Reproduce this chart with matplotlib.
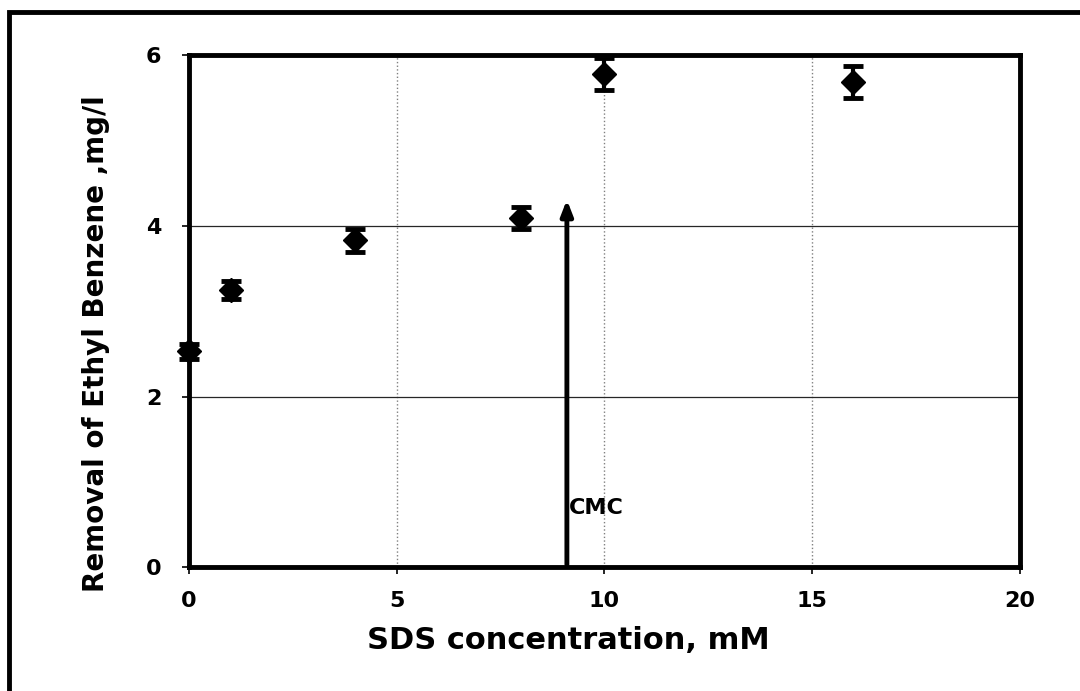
import numpy as np
import matplotlib.pyplot as plt
from matplotlib.patches import Rectangle

plt.rcParams['font.family'] = ['DejaVu Sans']

# data
sds_conc = [0, 1, 4, 8, 10, 16]
removal = [2.53, 3.25, 3.83, 4.09, 5.78, 5.69]
removal_err = [0.09, 0.11, 0.13, 0.13, 0.19, 0.19]
cmc_x = 9.1
cmc_top = 4.34

fig = plt.figure(figsize=(10.8, 6.91), dpi=100)
ax = fig.add_axes([0.175, 0.179, 0.769, 0.741])

# outer frame round the figure (cut off at right and bottom like the scan)
fig.patches.append(Rectangle((0.008, -0.1), 1.2, 1.083, transform=fig.transFigure,
                             fill=False, edgecolor='black', linewidth=3.5))

ax.errorbar(sds_conc, removal, yerr=removal_err, fmt='D', color='black',
            markersize=12, elinewidth=3, capsize=7, capthick=3.5, zorder=5, clip_on=False)

ax.annotate('', xy=(cmc_x, cmc_top), xytext=(cmc_x, 0),
            arrowprops=dict(arrowstyle='-|>,head_width=0.35,head_length=0.9',
                            color='black', lw=3.5))
ax.text(cmc_x + 0.05, 0.7, 'CMC', fontsize=16, fontweight='bold', va='center', ha='left')

ax.set_xlim(0, 20)
ax.set_ylim(0, 6)
ax.set_xticks([0, 5, 10, 15, 20])
ax.set_yticks([0, 2, 4, 6])

ax.xaxis.grid(True, linestyle=':', color='0.5', linewidth=1)
ax.yaxis.grid(True, linestyle='-', color='0.15', linewidth=0.9)
ax.set_axisbelow(True)

for s in ax.spines.values():
    s.set_linewidth(3.5)
ax.tick_params(length=5, width=1.2, labelsize=16)
ax.tick_params(axis='x', pad=12)
ax.tick_params(axis='y', pad=15)
for lab in ax.get_xticklabels() + ax.get_yticklabels():
    lab.set_fontweight('bold')

ax.set_xlabel('SDS concentration, mM', fontsize=22, fontweight='bold')
ax.set_ylabel('Removal of Ethyl Benzene ,mg/l', fontsize=20, fontweight='bold')
ax.xaxis.set_label_coords(0.457, -0.115)
ax.yaxis.set_label_coords(-0.095, 0.436)

fig.savefig('out.png', dpi=100)
